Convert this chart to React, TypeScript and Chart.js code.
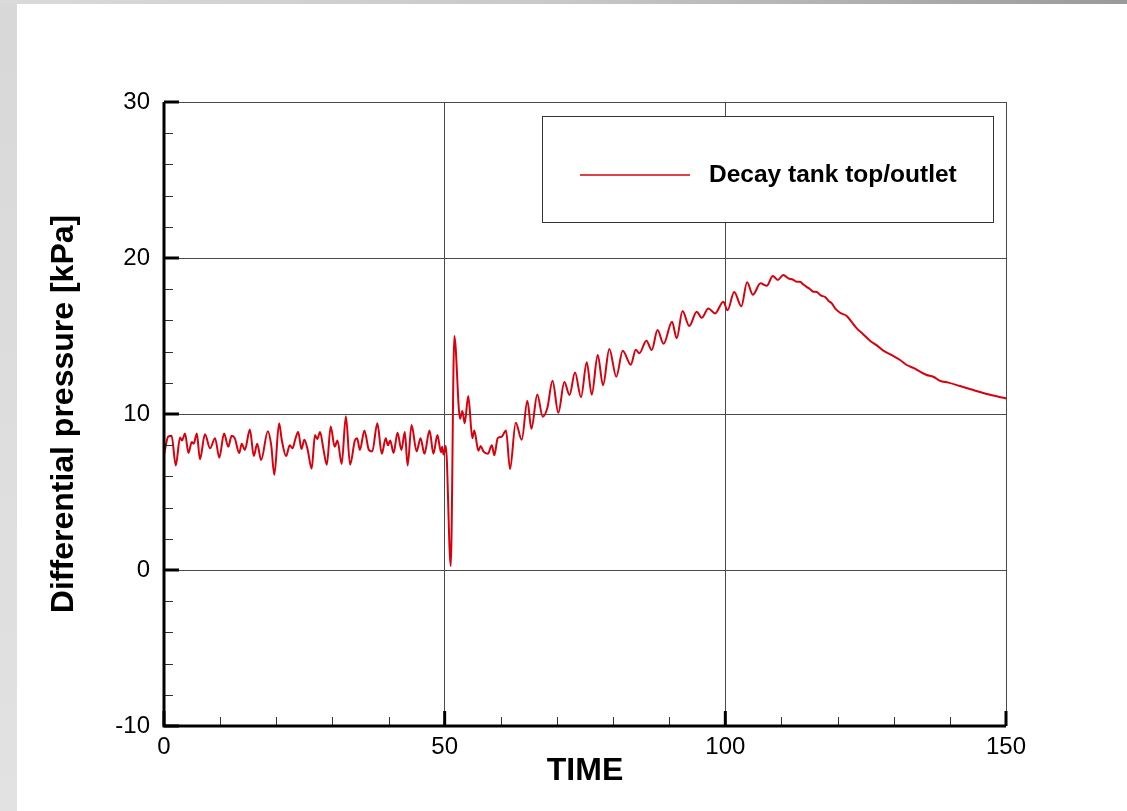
import React, { useEffect, useRef } from 'react';
import { Chart, registerables } from 'chart.js';

Chart.register(...registerables);

const times: number[] = [
  0.0, 0.75, 1.35, 2.1, 2.85, 3.2, 3.75, 4.35, 4.95, 5.3, 5.85, 6.4, 7.3, 8.2, 9.1, 9.85,
  10.7, 11.45, 12.05, 12.6, 13.4, 13.85, 14.4, 15.3, 16.0, 16.6, 17.3, 18.5, 19.1, 19.65,
  20.5, 21.0, 21.75, 22.4, 22.9, 23.4, 23.9, 24.5, 25.0, 25.6, 26.3, 26.9, 27.3, 27.8,
  28.4, 29.0, 29.7, 30.4, 30.9, 31.65, 32.4, 33.15, 34.0, 34.4, 34.9, 35.7, 36.5, 37.1,
  38.0, 38.8, 39.5, 39.9, 40.3, 40.9, 41.6, 42.3, 42.9, 43.4, 44.1, 45.0, 45.7, 46.4,
  47.3, 48.0, 48.7, 49.35, 49.55, 49.8, 50.2, 51.08, 51.72, 52.74, 53.15, 53.57, 54.2,
  54.93, 55.28, 56.0, 56.42, 56.9, 57.7, 58.4, 58.85, 59.45, 60.16, 60.93, 61.64, 62.66,
  63.73, 64.73, 65.45, 66.5, 67.47, 68.3, 69.21, 70.25, 71.32, 72.24, 73.22, 74.29,
  75.31, 76.2, 77.27, 78.21, 79.33, 80.58, 81.72, 83.15, 84.05, 84.68, 85.93, 86.89,
  87.92, 89.0, 90.5, 91.34, 92.37, 93.57, 94.9, 95.8, 96.97, 98.17, 99.64, 100.39,
  101.58, 102.85, 103.87, 104.9, 106.27, 107.38, 108.45, 109.34, 110.33, 111.22, 112.0,
  112.72, 113.3, 113.9, 114.6, 115.1, 115.68, 116.3, 117.0, 117.77, 118.4, 118.96,
  119.6, 120.43, 121.63, 122.5, 123.41, 124.6, 125.78, 127.0, 128.15, 129.64, 131.13,
  132.32, 133.5, 134.69, 135.88, 137.06, 138.25, 139.73, 141.81, 144.18, 146.57, 150.0,
];

const pressure: number[] = [
  7.4, 8.55, 8.6, 6.7, 8.5, 8.3, 8.75, 7.5, 8.2, 8.1, 8.75, 7.1, 8.7, 7.8, 8.45, 7.2,
  8.75, 7.9, 8.6, 8.45, 7.5, 8.1, 7.7, 9.0, 7.3, 8.1, 7.05, 8.9, 8.0, 6.1,
  9.4, 8.3, 7.3, 8.0, 7.8, 8.4, 8.85, 7.75, 8.35, 7.7, 6.5, 8.65, 8.4, 8.85,
  7.75, 6.75, 9.2, 7.9, 8.3, 6.8, 9.85, 6.75, 8.3, 8.45, 7.7, 8.95, 7.7, 7.6,
  9.4, 7.45, 8.45, 8.0, 8.3, 7.5, 8.8, 7.7, 8.85, 6.7, 9.3, 7.6, 8.45, 7.45,
  8.95, 7.45, 8.65, 7.55, 7.9, 7.4, 7.95, 0.25, 15.0, 9.7, 10.2, 9.4, 11.15,
  8.45, 8.95, 7.65, 7.95, 7.6, 7.45, 8.0, 7.35, 8.45, 8.55, 8.95, 6.47, 9.44,
  8.35, 10.85, 9.05, 11.25, 9.83, 10.4, 12.13, 10.08, 12.05, 11.22, 12.66, 11.08,
  13.31, 11.24, 13.78, 11.84, 14.17, 12.39, 14.06, 13.16, 14.12, 13.89, 14.7, 14.1,
  15.38, 14.5, 15.92, 14.85, 16.6, 15.64, 16.56, 16.17, 16.77, 16.45, 17.2, 16.65,
  17.82, 16.9, 18.44, 17.65, 18.38, 18.22, 18.85, 18.59, 18.91, 18.7, 18.62,
  18.48, 18.47, 18.3, 18.12, 18.0, 17.84, 17.82, 17.6, 17.5, 17.25, 17.09,
  16.75, 16.49, 16.28, 15.9, 15.49, 15.1, 14.7, 14.4, 14.06, 13.78, 13.46,
  13.14, 12.95, 12.71, 12.5, 12.39, 12.12, 12.01, 11.79, 11.54, 11.28, 11.0,
];

const xTickValues: number[] = [0, 50, 100, 150];
const yTickValues: number[] = [-10, 0, 10, 20, 30];
const xMinorTicks: number[] = [10, 20, 30, 40, 60, 70, 80, 90, 110, 120, 130, 140];
const yMinorTicks: number[] = [-8, -6, -4, -2, 2, 4, 6, 8, 12, 14, 16, 18, 22, 24, 26, 28];

const seriesLabel = 'Decay tank top/outlet';
const xTitle = 'TIME';
const yTitle = 'Differential pressure [kPa]';

const FONT = '"Liberation Sans", Arial, Helvetica, sans-serif';
const LINE_COLOR = '#d9000d';

export default function App() {
  const ref = useRef<HTMLCanvasElement>(null);

  useEffect(() => {
    const canvas = ref.current;
    if (!canvas) return;

    const axesPlugin = {
      id: 'plotFrame',
      afterDatasetsDraw(chart: any) {
        const { ctx, chartArea: ca, scales } = chart;
        const x = scales.x;
        const y = scales.y;
        ctx.save();
        // minor ticks
        ctx.strokeStyle = '#333';
        ctx.lineWidth = 1;
        ctx.beginPath();
        yMinorTicks.forEach((v) => {
          const py = Math.round(y.getPixelForValue(v)) + 0.5;
          ctx.moveTo(ca.left, py);
          ctx.lineTo(ca.left + 9, py);
        });
        xMinorTicks.forEach((v) => {
          const px = Math.round(x.getPixelForValue(v)) + 0.5;
          ctx.moveTo(px, ca.bottom);
          ctx.lineTo(px, ca.bottom - 9);
        });
        ctx.stroke();
        // major ticks
        ctx.strokeStyle = '#000';
        ctx.lineWidth = 3;
        ctx.beginPath();
        yTickValues.forEach((v) => {
          const py = y.getPixelForValue(v);
          ctx.moveTo(ca.left, py);
          ctx.lineTo(ca.left + 15, py);
        });
        xTickValues.forEach((v) => {
          const px = x.getPixelForValue(v);
          ctx.moveTo(px, ca.bottom);
          ctx.lineTo(px, ca.bottom - 15);
        });
        ctx.stroke();
        // thick axes
        ctx.lineWidth = 3;
        ctx.beginPath();
        ctx.moveTo(ca.left, ca.top);
        ctx.lineTo(ca.left, ca.bottom);
        ctx.lineTo(ca.right, ca.bottom);
        ctx.stroke();

        // legend box
        const bx = ca.right - 464;
        const by = ca.top + 14;
        const bw = 451;
        const bh = 106;
        ctx.fillStyle = '#fff';
        ctx.fillRect(bx, by, bw, bh);
        ctx.strokeStyle = '#333';
        ctx.lineWidth = 1;
        ctx.strokeRect(Math.round(bx) + 0.5, Math.round(by) + 0.5, bw, bh);
        const ly = by + 59;
        ctx.strokeStyle = LINE_COLOR;
        ctx.lineWidth = 1.5;
        ctx.beginPath();
        ctx.moveTo(bx + 38, ly);
        ctx.lineTo(bx + 148, ly);
        ctx.stroke();
        ctx.fillStyle = '#000';
        ctx.font = `bold 24.5px ${FONT}`;
        ctx.textAlign = 'left';
        ctx.textBaseline = 'middle';
        ctx.fillText(chart.data.datasets[0].label, bx + 167, ly);
        ctx.restore();
      },
    };

    const chart = new Chart(canvas, {
      type: 'line',
      data: {
        datasets: [
          {
            label: seriesLabel,
            data: times.map((t, i) => ({ x: t, y: pressure[i] })),
            borderColor: LINE_COLOR,
            borderWidth: 2,
            pointRadius: 0,
            fill: false,
            cubicInterpolationMode: 'monotone',
          },
        ],
      },
      options: {
        animation: false,
        responsive: false,
        devicePixelRatio: 1,
        layout: { padding: { left: 0, right: 121, top: 102, bottom: 0 } },
        plugins: {
          legend: { display: false },
          tooltip: { enabled: false },
        },
        scales: {
          x: {
            type: 'linear',
            min: 0,
            max: 150,
            afterFit: (s: any) => {
              s.height = 85;
            },
            afterBuildTicks: (s: any) => {
              s.ticks = xTickValues.map((v) => ({ value: v }));
            },
            grid: { color: '#4a4a4a', lineWidth: 1, drawTicks: false },
            border: { display: false },
            ticks: {
              color: '#000',
              padding: 7,
              maxRotation: 0,
              font: { family: FONT, size: 24 },
            },
            title: {
              display: true,
              text: xTitle,
              color: '#000',
              font: { family: FONT, size: 32, weight: 'bold', lineHeight: 1 },
              padding: { top: 0, bottom: 24 },
            },
          },
          y: {
            type: 'linear',
            min: -10,
            max: 30,
            afterFit: (s: any) => {
              s.width = 164;
            },
            afterBuildTicks: (s: any) => {
              s.ticks = yTickValues.map((v) => ({ value: v }));
            },
            grid: { color: '#4a4a4a', lineWidth: 1, drawTicks: false },
            border: { display: false },
            ticks: {
              color: '#000',
              padding: 14,
              font: { family: FONT, size: 24 },
            },
            title: {
              display: true,
              text: yTitle,
              color: '#000',
              font: { family: FONT, size: 32, weight: 'bold', lineHeight: 1 },
              padding: { top: 48, bottom: 0 },
            },
          },
        },
      },
      plugins: [axesPlugin],
    } as any);

    return () => chart.destroy();
  }, []);

  return (
    <div
      style={{
        position: 'fixed',
        left: 0,
        top: 0,
        width: 1127,
        height: 811,
        background: 'linear-gradient(to right, #dadada 0%, #c8c8c8 50%, #9a9a9a 100%)',
        overflow: 'hidden',
      }}
    >
      <div
        style={{
          position: 'absolute',
          left: 0,
          top: 4,
          width: 17,
          height: 807,
          background: 'linear-gradient(to bottom, #d8d8d8, #e2e2e2)',
        }}
      />
      <div
        style={{
          position: 'absolute',
          left: 17,
          top: 4,
          width: 1110,
          height: 807,
          background: '#fff',
        }}
      />
      <canvas
        ref={ref}
        width={1127}
        height={811}
        style={{ position: 'absolute', left: 0, top: 0, width: 1127, height: 811 }}
      />
    </div>
  );
}
